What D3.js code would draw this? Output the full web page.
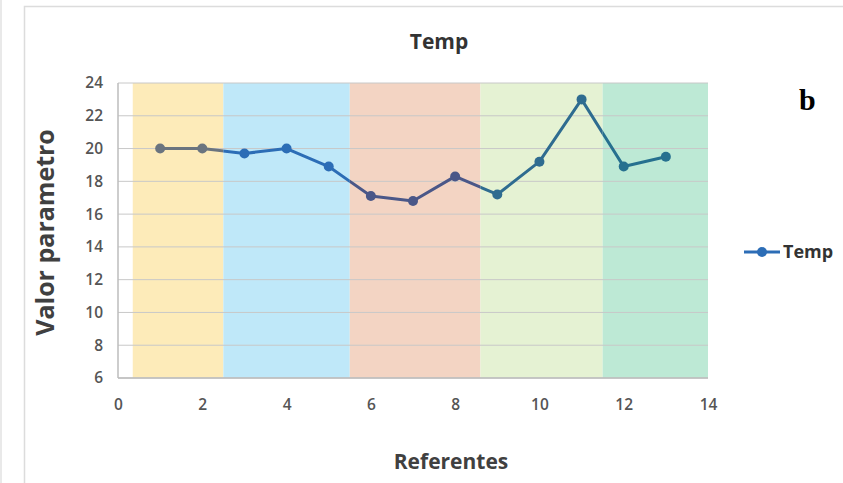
<!DOCTYPE html>
<html>
<head>
<meta charset="utf-8">
<script src="https://cdn.jsdelivr.net/npm/d3@7"></script>
<style>
  body { margin: 0; background: #fff; }
  text { font-family: "Open Sans", "Noto Sans", sans-serif; }
</style>
</head>
<body>
<div class="canvas"></div>
<script>
const
    width = 843,
    height = 483,
    margin = {top: 83, right: 135, bottom: 105, left: 118};

// data
const referentes = [1, 2, 3, 4, 5, 6, 7, 8, 9, 10, 11, 12, 13];
const temp = [20, 20, 19.7, 20, 18.9, 17.1, 16.8, 18.3, 17.2, 19.2, 23, 18.9, 19.5];
const bandStart = [0.35, 2.5, 5.5, 8.6, 11.5];
const bandEnd = [2.5, 5.5, 8.6, 11.5, 14];
const xTicks = [0, 2, 4, 6, 8, 10, 12, 14];
const yTicks = [6, 8, 10, 12, 14, 16, 18, 20, 22, 24];

const bandColors = ["#fdebb9", "#bfe8f9", "#f3d4c3", "#e5f2d3", "#bde9d5"];
const lineColors = ["#6a747f", "#2c6db6", "#4a5788", "#2f6c90", "#26708f"];

const svg = d3.select('.canvas').append("svg")
    .attr('width', width)
    .attr('height', height);

// outer frame
svg.append("line").attr("x1", 1).attr("x2", 1).attr("y1", 0).attr("y2", height)
    .attr("stroke", "#e2e2e2").attr("stroke-width", 1.5);
svg.append("rect").attr("x", 24.5).attr("y", 6.5)
    .attr("width", width + 10).attr("height", height - 5)
    .attr("fill", "none").attr("stroke", "#dcdcdc").attr("stroke-width", 1.5);

const x = d3.scaleLinear()
    .domain([0, 14])
    .range([margin.left, width - margin.right]);
const y = d3.scaleLinear()
    .domain([6, 24])
    .range([height - margin.bottom, margin.top]);

// coloured bands
svg.selectAll("rect.band")
    .data(bandStart)
    .enter()
    .append("rect")
    .attr("class", "band")
    .attr("x", d => x(d))
    .attr("y", y(24))
    .attr("width", (d, i) => x(bandEnd[i]) - x(d))
    .attr("height", y(6) - y(24))
    .attr("fill", (d, i) => bandColors[i]);

// gridlines
svg.selectAll("line.grid")
    .data(yTicks)
    .enter()
    .append("line")
    .attr("class", "grid")
    .attr("x1", x(0))
    .attr("x2", x(14))
    .attr("y1", d => y(d))
    .attr("y2", d => y(d))
    .attr("stroke", "#c8c8c8")
    .attr("stroke-width", 1);

// plot border
svg.append("line")
    .attr("x1", x(0)).attr("x2", x(0)).attr("y1", y(24)).attr("y2", y(6))
    .attr("stroke", "#bdbdbd").attr("stroke-width", 1.5);
svg.append("line")
    .attr("x1", x(0)).attr("x2", x(14)).attr("y1", y(6)).attr("y2", y(6))
    .attr("stroke", "#bdbdbd").attr("stroke-width", 1.5);

// axes
const xAxis = svg.append("g")
    .attr("transform", `translate(0,${y(6)})`)
    .call(d3.axisBottom(x).tickValues(xTicks).tickSize(0).tickPadding(21));
const yAxis = svg.append("g")
    .attr("transform", `translate(${x(0)},0)`)
    .call(d3.axisLeft(y).tickValues(yTicks).tickSize(0).tickPadding(15));
[xAxis, yAxis].forEach(g => {
    g.select(".domain").remove();
    g.selectAll("text")
        .attr("fill", "#555")
        .style("font-size", "15.5px")
        .style("font-weight", "600")
        .style("font-family", "'Open Sans', sans-serif");
});

// line, recoloured inside each band
const lineGen = d3.line()
    .x((d, i) => x(referentes[i]))
    .y(d => y(d));

const defs = svg.append("defs");
bandStart.forEach((s, i) => {
    defs.append("clipPath").attr("id", "clip" + i)
        .append("rect")
        .attr("x", x(s)).attr("y", 0)
        .attr("width", x(bandEnd[i]) - x(s)).attr("height", height);

    const g = svg.append("g").attr("clip-path", `url(#clip${i})`);
    g.append("path")
        .datum(temp)
        .attr("d", lineGen)
        .attr("fill", "none")
        .attr("stroke", lineColors[i])
        .attr("stroke-width", 3)
        .attr("stroke-linejoin", "round");
    g.selectAll("circle")
        .data(temp)
        .enter()
        .append("circle")
        .attr("cx", (d, j) => x(referentes[j]))
        .attr("cy", d => y(d))
        .attr("r", 5)
        .attr("fill", lineColors[i]);
});

// titles
svg.append("text")
    .attr("x", 439).attr("y", 49)
    .attr("text-anchor", "middle")
    .attr("fill", "#333")
    .style("font-size", "21px")
    .style("font-weight", "700")
    .text("Temp");

svg.append("text")
    .attr("x", 451).attr("y", 469)
    .attr("text-anchor", "middle")
    .attr("fill", "#404040")
    .style("font-size", "21px")
    .style("font-weight", "700")
    .text("Referentes");

svg.append("text")
    .attr("transform", `translate(54,${(y(6) + y(24)) / 2 + 2}) rotate(-90)`)
    .attr("text-anchor", "middle")
    .attr("fill", "#404040")
    .style("font-size", "25px")
    .style("font-weight", "700")
    .text("Valor parametro");

// legend
const legend = svg.append("g").attr("transform", "translate(744,252)");
legend.append("line")
    .attr("x1", 0).attr("x2", 36)
    .attr("stroke", "#2c6db6").attr("stroke-width", 3);
legend.append("circle")
    .attr("cx", 18).attr("r", 5).attr("fill", "#2c6db6");
legend.append("text")
    .attr("x", 39).attr("y", 6)
    .attr("fill", "#333")
    .style("font-size", "18px")
    .style("font-weight", "700")
    .text("Temp");

// panel letter
svg.append("text")
    .attr("x", 799).attr("y", 110)
    .attr("fill", "#000")
    .style("font-family", "'Liberation Serif', 'DejaVu Serif', serif")
    .style("font-size", "30px")
    .style("font-weight", "700")
    .text("b");
</script>
</body>
</html>
